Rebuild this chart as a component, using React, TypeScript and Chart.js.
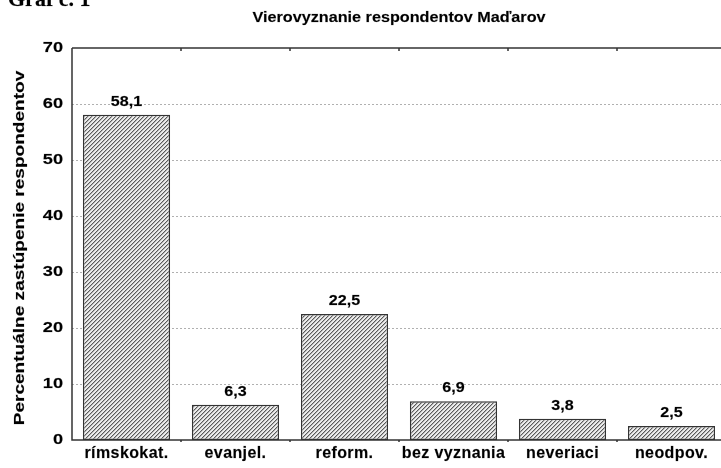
import React, { useEffect, useRef } from "react";
import { Chart, registerables } from "chart.js";

Chart.register(...registerables);

const categories = ["rímskokat.", "evanjel.", "reform.", "bez vyznania", "neveriaci", "neodpov."];
const values = [58.1, 6.3, 22.5, 6.9, 3.8, 2.5];
const yTicks = [0, 10, 20, 30, 40, 50, 60, 70];
const chartTitle = "Vierovyznanie respondentov Maďarov";
const yAxisTitle = "Percentuálne zastúpenie respondentov";
const figureLabel = "Graf č. 1";

const SANS = '"Liberation Sans", Arial, sans-serif';

function makeHatch(): CanvasPattern | string {
  const c = document.createElement("canvas");
  c.width = 4;
  c.height = 4;
  const g = c.getContext("2d");
  if (!g) return "#999";
  g.fillStyle = "#ececec";
  g.fillRect(0, 0, 4, 4);
  for (let i = 0; i < 4; i++) {
    g.fillStyle = "#5a5a5a";
    g.fillRect(i, 3 - i, 1, 1);
    g.fillStyle = "#b4b4b4";
    g.fillRect(i, (4 - i) % 4, 1, 1);
  }
  const ctx = document.createElement("canvas").getContext("2d");
  return ctx ? (ctx.createPattern(c, "repeat") as CanvasPattern) : "#999";
}

function drawStretched(
  ctx: CanvasRenderingContext2D,
  text: string,
  x: number,
  y: number,
  font: string,
  sx: number,
  align: CanvasTextAlign,
  baseline: CanvasTextBaseline,
  rotate = 0,
  spacing = "0px"
) {
  ctx.save();
  ctx.translate(x, y);
  if (rotate) ctx.rotate(rotate);
  ctx.scale(sx, 1);
  ctx.font = font;
  (ctx as any).letterSpacing = spacing;
  ctx.textAlign = align;
  ctx.textBaseline = baseline;
  ctx.fillStyle = "#000";
  ctx.fillText(text, 0, 0);
  ctx.strokeStyle = "rgba(0,0,0,0.35)";
  ctx.lineWidth = 0.4;
  ctx.strokeText(text, 0, 0);
  ctx.restore();
}

const decorPlugin = {
  id: "decor",
  beforeDatasetsDraw(chart: any) {
    const { ctx, chartArea } = chart;
    const y = chart.scales.y;
    ctx.save();
    ctx.strokeStyle = "#b0b0b0";
    ctx.lineWidth = 1;
    ctx.setLineDash([2, 2]);
    yTicks.forEach((t) => {
      if (t === 0 || t === 70) return;
      const py = Math.round(y.getPixelForValue(t)) + 0.5;
      ctx.beginPath();
      ctx.moveTo(chartArea.left, py);
      ctx.lineTo(chartArea.right, py);
      ctx.stroke();
    });
    ctx.restore();
  },
  afterDatasetsDraw(chart: any) {
    const { ctx, chartArea } = chart;
    const x = chart.scales.x;
    const y = chart.scales.y;
    ctx.save();
    ctx.strokeStyle = "#666";
    ctx.lineWidth = 2;
    ctx.beginPath();
    ctx.moveTo(chartArea.left, chartArea.top);
    ctx.lineTo(chartArea.right, chartArea.top);
    ctx.stroke();
    ctx.strokeStyle = "#333";
    ctx.lineWidth = 1.5;
    ctx.beginPath();
    ctx.moveTo(chartArea.left, chartArea.top);
    ctx.lineTo(chartArea.left, chartArea.bottom);
    ctx.lineTo(chartArea.right, chartArea.bottom);
    ctx.stroke();
    const n = categories.length;
    ctx.strokeStyle = "#333";
    ctx.lineWidth = 1.5;
    for (let i = 1; i < n; i++) {
      const bx = (x.getPixelForValue(i - 1) + x.getPixelForValue(i)) / 2;
      ctx.beginPath();
      ctx.moveTo(bx, chartArea.top);
      ctx.lineTo(bx, chartArea.top + 3);
      ctx.moveTo(bx, chartArea.bottom);
      ctx.lineTo(bx, chartArea.bottom + 2);
      ctx.stroke();
    }
    ctx.restore();

    yTicks.forEach((t) => {
      drawStretched(ctx, String(t), chartArea.left - 9, y.getPixelForValue(t), `bold 14px ${SANS}`, 1.3, "right", "middle");
    });
    categories.forEach((c, i) => {
      drawStretched(ctx, c, x.getPixelForValue(i), chartArea.bottom + 14, `bold 16px ${SANS}`, 1.0, "center", "middle", 0, "0.4px");
    });
    values.forEach((v, i) => {
      const px = x.getPixelForValue(i);
      const py = y.getPixelForValue(v);
      drawStretched(ctx, v.toFixed(1).replace(".", ","), px, py - 9, `bold 14px ${SANS}`, 1.15, "center", "alphabetic");
    });
    drawStretched(ctx, chartTitle, 399, 18, `bold 15px ${SANS}`, 1.08, "center", "middle");
    drawStretched(ctx, yAxisTitle, 20, 248, `bold 15px ${SANS}`, 1.27, "center", "middle", -Math.PI / 2);
    drawStretched(ctx, figureLabel, 8, 6, `bold 22px "Liberation Serif", "Times New Roman", serif`, 1.0, "left", "alphabetic");
  },
};

export default function App() {
  const ref = useRef<HTMLCanvasElement | null>(null);
  useEffect(() => {
    if (!ref.current) return;
    const hatch = makeHatch();
    const chart = new Chart(ref.current, {
      type: "bar",
      data: {
        labels: categories,
        datasets: [
          {
            data: values,
            backgroundColor: hatch as any,
            borderColor: "#333",
            borderWidth: 1.5,
            borderSkipped: false,
            categoryPercentage: 1,
            barPercentage: 0.8,
          },
        ],
      },
      options: {
        responsive: false,
        animation: false,
        devicePixelRatio: 1,
        layout: { padding: { top: 48, right: 1, left: 0, bottom: 0 } },
        plugins: { legend: { display: false }, tooltip: { enabled: false }, title: { display: false } },
        scales: {
          x: {
            ticks: { display: false },
            grid: { display: false },
            border: { display: false },
            afterFit: (s: any) => {
              s.height = 28;
            },
          },
          y: {
            min: 0,
            max: 70,
            ticks: { display: false, stepSize: 10 },
            grid: { display: false },
            border: { display: false },
            afterFit: (s: any) => {
              s.width = 72;
            },
          },
        },
      },
      plugins: [decorPlugin],
    });
    return () => chart.destroy();
  }, []);
  return (
    <div style={{ position: "fixed", left: 0, top: 0, width: 721, height: 468, overflow: "hidden", background: "#fff" }}>
      <canvas ref={ref} width={727} height={468} style={{ display: "block", width: 727, height: 468 }} />
    </div>
  );
}
